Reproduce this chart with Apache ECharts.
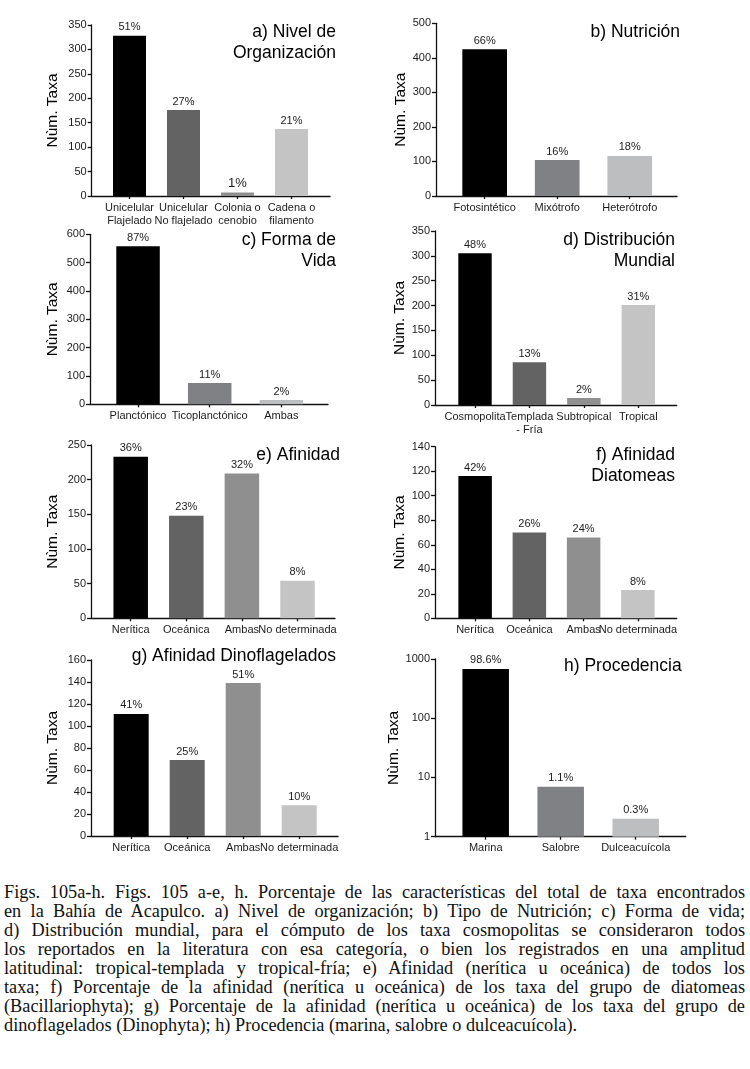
<!DOCTYPE html>
<html>
<head>
<meta charset="utf-8">
<script src="https://cdn.jsdelivr.net/npm/echarts@6/dist/echarts.min.js"></script>
<style>
  html, body { margin: 0; padding: 0; background: #fff; }
  #wrap { position: relative; width: 750px; height: 1069px; }
  #chart { position: absolute; left: 0; top: 0; width: 750px; height: 870px; }
  #caption { position: absolute; left: 4px; top: 883px; width: 741px;
    font-family: "Liberation Serif", "DejaVu Serif", serif; font-size: 18.3px; line-height: 19px; color: #111; }
  #caption div { white-space: nowrap; text-align: justify; text-align-last: justify; }
  #caption div.last { text-align-last: left; }
</style>
</head>
<body>
<div id="wrap">
  <div id="chart"></div>
  <div id="caption">
    <div>Figs. 105a-h. Figs. 105 a-e, h. Porcentaje de las características del total de taxa encontrados</div>
    <div>en la Bahía de Acapulco. a) Nivel de organización; b) Tipo de Nutrición; c) Forma de vida;</div>
    <div>d) Distribución mundial, para el cómputo de los taxa cosmopolitas se consideraron todos</div>
    <div>los reportados en la literatura con esa categoría, o bien los registrados en una amplitud</div>
    <div>latitudinal: tropical-templada y tropical-fría; e) Afinidad (nerítica u oceánica) de todos los</div>
    <div>taxa; f) Porcentaje de la afinidad (nerítica u oceánica) de los taxa del grupo de diatomeas</div>
    <div>(Bacillariophyta); g) Porcentaje de la afinidad (nerítica u oceánica) de los taxa del grupo de</div>
    <div class="last">dinoflagelados (Dinophyta); h) Procedencia (marina, salobre o dulceacuícola).</div>
  </div>
</div>
<script>
// ---------- DATA ----------
const catA = ['Unicelular\nFlajelado', 'Unicelular\nNo flajelado', 'Colonia o\ncenobio', 'Cadena o\nfilamento'];
const valA = [328, 176, 7, 137];
const pctA = ['51%', '27%', '1%', '21%'];
const ticksA = [0, 50, 100, 150, 200, 250, 300, 350];

const catB = ['Fotosintético', 'Mixótrofo', 'Heterótrofo'];
const valB = [425, 104, 116];
const pctB = ['66%', '16%', '18%'];
const ticksB = [0, 100, 200, 300, 400, 500];

const catC = ['Planctónico', 'Ticoplanctónico', 'Ambas'];
const valC = [558, 75, 15];
const pctC = ['87%', '11%', '2%'];
const ticksC = [0, 100, 200, 300, 400, 500, 600];

const catD = ['Cosmopolita', 'Templada\n- Fría', 'Subtropical', 'Tropical'];
const valD = [305, 86, 14, 201];
const pctD = ['48%', '13%', '2%', '31%'];
const ticksD = [0, 50, 100, 150, 200, 250, 300, 350];

const catE = ['Nerítica', 'Oceánica', 'Ambas', 'No determinada'];
const valE = [233, 148, 209, 54];
const pctE = ['36%', '23%', '32%', '8%'];
const ticksE = [0, 50, 100, 150, 200, 250];

const catF = ['Nerítica', 'Oceánica', 'Ambas', 'No determinada'];
const valF = [116, 70, 66, 23];
const pctF = ['42%', '26%', '24%', '8%'];
const ticksF = [0, 20, 40, 60, 80, 100, 120, 140];

const catG = ['Nerítica', 'Oceánica', 'Ambas', 'No determinada'];
const valG = [111, 69, 139, 28];
const pctG = ['41%', '25%', '51%', '10%'];
const ticksG = [0, 20, 40, 60, 80, 100, 120, 140, 160];

const catH = ['Marina', 'Salobre', 'Dulceacuícola'];
const valH = [680, 7, 2];
const pctH = ['98.6%', '1.1%', '0.3%'];
const ticksH = [1, 10, 100, 1000];

const titles = ['a) Nivel de\nOrganización', 'b) Nutrición', 'c) Forma de\nVida', 'd) Distribución\nMundial',
  'e) Afinidad', 'f) Afinidad\nDiatomeas', 'g) Afinidad Dinoflagelados', 'h) Procedencia'];
const yName = 'Nùm. Taxa';

// ---------- STYLE / LAYOUT ----------
const pal4 = ['#000000', '#636363', '#8f8f8f', '#c4c4c4'];
const pal3 = ['#000000', '#808184', '#bdbec0'];
const FONT = '"Liberation Sans", Arial, sans-serif';
const TXT = '#1c1c1c';

const panels = [
  { cats: catA, vals: valA, pcts: pctA, ticks: ticksA, colors: pal4, frame: [91.7, 25, 238.3, 171], bars: [102.5, 216], barW: 33, gap: 31, tx: 336, tt: 21.5, big: [2] },
  { cats: catB, vals: valB, pcts: pctB, ticks: ticksB, colors: pal3, frame: [436, 23.3, 241, 172.7], bars: [448.4, 217.6], barW: 44.7, gap: 27, tx: 680, tt: 21.5 },
  { cats: catC, vals: valC, pcts: pctC, ticks: ticksC, colors: pal3, frame: [90, 234.3, 238, 170], bars: [102.2, 215], barW: 43.5, gap: 29, tx: 336, tt: 229.5 },
  { cats: catD, vals: valD, pcts: pctD, ticks: ticksD, colors: pal4, frame: [435, 231, 241.7, 174], bars: [447.8, 217.7], barW: 33.4, gap: 27, tx: 675, tt: 229.5 },
  { cats: catE, vals: valE, pcts: pctE, ticks: ticksE, colors: pal4, frame: [91, 445, 244, 173.3], bars: [102.9, 222.4], barW: 34.5, gap: 30, tx: 340, tt: 444.5 },
  { cats: catF, vals: valF, pcts: pctF, ticks: ticksF, colors: pal4, frame: [435, 446.7, 241.7, 171.6], bars: [448, 217], barW: 33.5, gap: 27, tx: 675, tt: 444.5 },
  { cats: catG, vals: valG, pcts: pctG, ticks: ticksG, colors: pal4, frame: [91, 660, 247, 176], bars: [103.2, 224], barW: 35, gap: 30, tx: 336, tt: 645.5 },
  { cats: catH, vals: valH, pcts: pctH, ticks: ticksH, colors: pal3, frame: [435, 659, 250.7, 177.7], bars: [448.2, 225], barW: 46.5, gap: 27, tx: 681.7, tt: 655.5, log: true }
];

const grid = [], xAxis = [], yAxis = [], series = [], title = [];
const lineStyle = { color: '#111', width: 1.3 };

panels.forEach((p, i) => {
  const [fl, ft, fw, fh] = p.frame;
  const gf = grid.length;
  grid.push({ left: fl, top: ft, width: fw, height: fh });
  grid.push({ left: p.bars[0], top: ft, width: p.bars[1], height: fh });
  const ymin = p.ticks[0], ymax = p.ticks[p.ticks.length - 1];
  const yType = p.log ? 'log' : 'value';
  const yBase = { type: yType, min: ymin, max: ymax };
  if (!p.log) yBase.interval = p.ticks[1] - p.ticks[0];
  else yBase.logBase = 10;

  // frame axes
  xAxis.push({ gridIndex: gf, type: 'value', min: 0, max: 1, axisLine: { show: true, onZero: false, lineStyle },
    axisTick: { show: false }, axisLabel: { show: false }, splitLine: { show: false } });
  yAxis.push(Object.assign({ gridIndex: gf, axisLine: { show: true, lineStyle },
    axisTick: { show: true, length: 4, lineStyle }, splitLine: { show: false },
    axisLabel: { fontFamily: FONT, fontSize: 11, color: TXT, margin: 5, formatter: v => String(v) },
    name: yName, nameLocation: 'middle', nameGap: p.gap,
    nameTextStyle: { fontFamily: FONT, fontSize: 15.5, color: '#000' } }, yBase));

  // bar axes
  xAxis.push({ gridIndex: gf + 1, type: 'category', data: p.cats,
    axisLine: { show: false }, axisTick: { show: true, alignWithLabel: true, length: 3, lineStyle },
    axisLabel: { interval: 0, fontFamily: FONT, fontSize: 11, lineHeight: 13, color: TXT, margin: 5 } });
  yAxis.push(Object.assign({ gridIndex: gf + 1, show: false, splitLine: { show: false } }, yBase));

  series.push({ type: 'bar', xAxisIndex: gf + 1, yAxisIndex: gf + 1, barWidth: p.barW, animation: false,
    label: { show: true, position: 'top', distance: 3, fontFamily: FONT, fontSize: 11, color: TXT },
    data: p.vals.map((v, j) => ({ value: v, itemStyle: { color: p.colors[j] },
      label: { formatter: p.pcts[j], fontSize: (p.big && p.big.includes(j)) ? 13 : 11 } })) });

  title.push({ text: titles[i], left: p.tx, top: p.tt, padding: 0, textAlign: 'right',
    textStyle: { fontFamily: FONT, fontSize: 17.5, fontWeight: 'normal', color: '#000', lineHeight: 21, align: 'right' } });
});

const chart = echarts.init(document.getElementById('chart'), null, { renderer: 'canvas' });
chart.setOption({ animation: false, backgroundColor: '#fff', title, grid, xAxis, yAxis, series });
</script>
</body>
</html>
